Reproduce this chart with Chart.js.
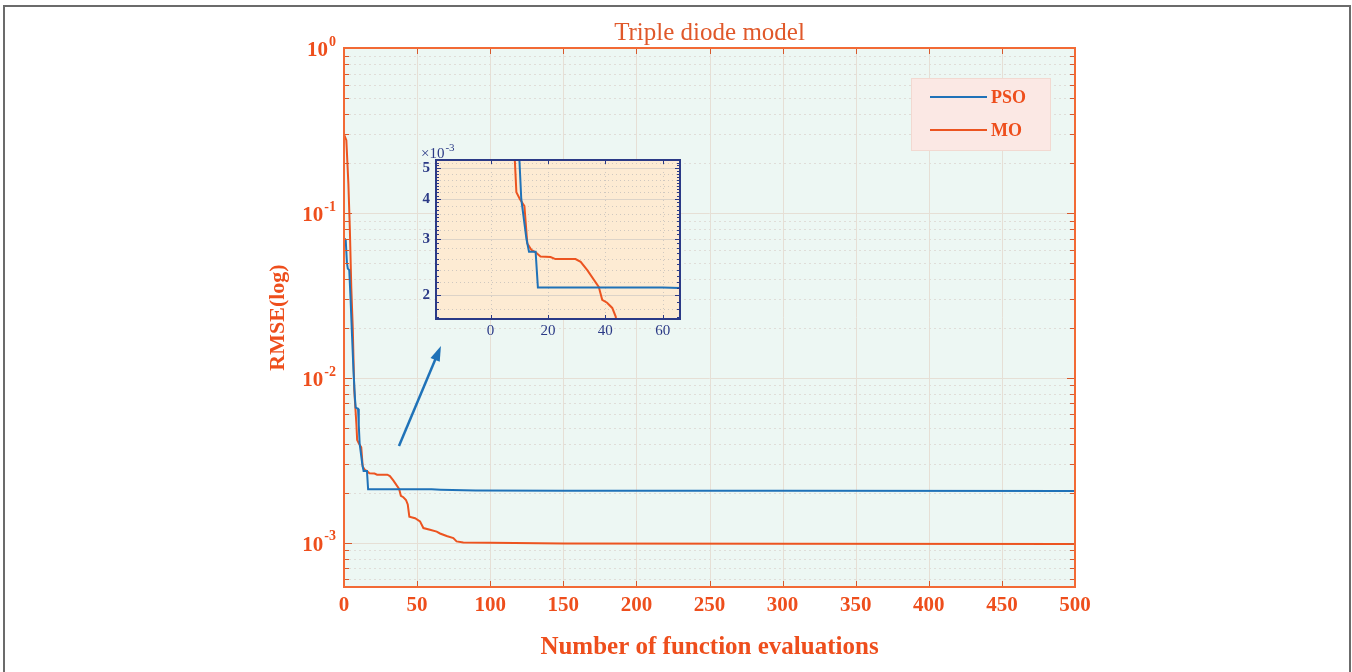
<!DOCTYPE html>
<html>
<head>
<meta charset="utf-8">
<script src="https://cdn.jsdelivr.net/npm/chart.js@4.4.0/dist/chart.umd.min.js"></script>
<style>
  html, body { margin: 0; padding: 0; background: #fff; }
  #wrap { position: relative; width: 1352px; height: 672px; overflow: hidden; }
  #frame { position: absolute; left: 3px; top: 5px; width: 1348px; height: 720px; border: 2px solid #6b6b6b; box-sizing: border-box; }
  #main { position: absolute; left: 0; top: 0; }
  #inset { position: absolute; left: 396px; top: 140px; }
</style>
</head>
<body>
<div id="wrap">
  <div id="frame"></div>
  <canvas id="main" width="1352" height="672"></canvas>
  <canvas id="inset" width="300" height="210"></canvas>
</div>
<script>
// series values
const seriesNames = ['PSO', 'MO'];

const psoIter = [0.5, 1.2, 2, 2.6, 3.6, 4.5, 5.5, 6.5, 7.5, 8, 9.6, 10.1, 10.7, 12.5, 13.4, 15.7, 16.5, 20, 40, 60, 66, 90, 150, 300, 500];
const psoRmse = [0.07, 0.068, 0.05, 0.046, 0.045, 0.03, 0.018, 0.011, 0.0075, 0.0066, 0.0065, 0.0052, 0.0040, 0.0030, 0.00273, 0.00273, 0.00211, 0.00211, 0.00211, 0.00211, 0.0021, 0.00208, 0.00207, 0.00207, 0.00206];

const moIter = [0, 1.6, 3, 4, 5, 6, 7, 8.5, 9, 10.2, 11.8, 12.8, 14.2, 15.7, 17.4, 20.9, 22.6, 29.6, 31.4, 33.7, 37.7, 38.9, 40.6, 42.4, 43.6, 44.7, 48.6, 52, 54.3, 58.8, 63.4, 65.7, 70.2, 74.8, 77, 81.6, 100, 150, 300, 500];
const moRmse = [0.30, 0.276, 0.15, 0.08, 0.035, 0.02, 0.0085, 0.0052, 0.0042, 0.0040, 0.0038, 0.0029, 0.00277, 0.00272, 0.00264, 0.00263, 0.00259, 0.00259, 0.00254, 0.00239, 0.00212, 0.00193, 0.00189, 0.00182, 0.00171, 0.00144, 0.00141, 0.00135, 0.00123, 0.0012, 0.00117, 0.00114, 0.0011, 0.00107, 0.00102, 0.001005, 0.001, 0.00099, 0.000988, 0.000985];

// tick labels
const xTicks = [0, 50, 100, 150, 200, 250, 300, 350, 400, 450, 500];
const yDecades = [1, 0.1, 0.01, 0.001];
const yExponents = ['0', '-1', '-2', '-3'];
const insetXTicks = [0, 20, 40, 60];
const insetYTicks = [0.002, 0.003, 0.004, 0.005];

const SERIF = '"Liberation Serif", "Times New Roman", serif';
const ORANGE = '#ee4e1c';
const FRAME = '#f26a35';
const PSO_COLOR = '#1f72b8';
const MO_COLOR = '#ec5420';
const NAVY = '#2b3a86';

const toPoints = (xs, ys) => xs.map((x, i) => ({ x: x, y: ys[i] }));

function makeDatasets() {
  return [
    { label: seriesNames[0], data: toPoints(psoIter, psoRmse), borderColor: PSO_COLOR, borderWidth: 2, pointRadius: 0, tension: 0 },
    { label: seriesNames[1], data: toPoints(moIter, moRmse), borderColor: MO_COLOR, borderWidth: 2, pointRadius: 0, tension: 0 }
  ];
}

function seg(ctx, x1, y1, x2, y2) {
  ctx.beginPath();
  ctx.moveTo(x1, y1);
  ctx.lineTo(x2, y2);
  ctx.stroke();
}

// main chart decorations: background, grid, box, ticks, labels, legend, arrow
const mainDecor = {
  id: 'mainDecor',
  beforeDraw(chart) {
    const { ctx, chartArea: a } = chart;
    ctx.save();
    ctx.fillStyle = '#edf7f3';
    ctx.fillRect(a.left, a.top, a.right - a.left, a.bottom - a.top);
    ctx.restore();
  },
  beforeDatasetsDraw(chart) {
    const { ctx, chartArea: a, scales: { x, y } } = chart;
    ctx.save();
    ctx.lineWidth = 1;
    ctx.strokeStyle = '#e6dfd5';
    xTicks.forEach(v => {
      if (v <= 0 || v >= 500) return;
      const px = Math.round(x.getPixelForValue(v)) + 0.5;
      seg(ctx, px, a.top, px, a.bottom);
    });
    yDecades.forEach(v => {
      const py = Math.round(y.getPixelForValue(v)) + 0.5;
      if (py <= a.top + 1) return;
      seg(ctx, a.left, py, a.right, py);
    });
    ctx.strokeStyle = '#e0ddd8';
    ctx.setLineDash([2, 3]);
    [1e-4, 1e-3, 1e-2, 1e-1].forEach(d => {
      for (let m = 2; m <= 9; m++) {
        const v = m * d;
        if (v <= y.min || v >= y.max) continue;
        const py = Math.round(y.getPixelForValue(v)) + 0.5;
        seg(ctx, a.left, py, a.right, py);
      }
    });
    ctx.restore();
  },
  afterDatasetsDraw(chart) {
    const { ctx, chartArea: a, scales: { x, y } } = chart;
    ctx.save();

    // ticks on all four sides
    ctx.strokeStyle = '#d8592c';
    ctx.lineWidth = 1;
    xTicks.forEach(v => {
      const px = Math.round(x.getPixelForValue(v)) + 0.5;
      seg(ctx, px, a.bottom, px, a.bottom - 6);
      seg(ctx, px, a.top, px, a.top + 6);
    });
    [1e-4, 1e-3, 1e-2, 1e-1].forEach(d => {
      for (let m = 1; m <= 9; m++) {
        const v = m * d;
        if (v <= y.min || v >= y.max) continue;
        const py = Math.round(y.getPixelForValue(v)) + 0.5;
        const len = m === 1 ? 8 : 5;
        seg(ctx, a.left, py, a.left + len, py);
        seg(ctx, a.right, py, a.right - len, py);
      }
    });

    // box
    ctx.strokeStyle = FRAME;
    ctx.lineWidth = 2;
    ctx.strokeRect(a.left, a.top, a.right - a.left, a.bottom - a.top);

    // y tick labels 10^n
    ctx.fillStyle = ORANGE;
    yDecades.forEach((v, i) => {
      const py = y.getPixelForValue(v);
      const exp = yExponents[i];
      ctx.font = 'bold 14px ' + SERIF;
      const ew = ctx.measureText(exp).width;
      ctx.font = 'bold 21px ' + SERIF;
      const bw = ctx.measureText('10').width;
      const right = a.left - 8;
      ctx.textAlign = 'left';
      ctx.textBaseline = 'middle';
      ctx.fillText('10', right - ew - 1 - bw, py + 3);
      ctx.font = 'bold 14px ' + SERIF;
      ctx.fillText(exp, right - ew, py - 6);
    });

    // title
    ctx.fillStyle = '#e0582a';
    ctx.font = '25px ' + SERIF;
    ctx.textAlign = 'center';
    ctx.textBaseline = 'middle';
    ctx.fillText('Triple diode model', (a.left + a.right) / 2, 33);

    // legend
    const lx = a.right - 164, ly = a.top + 30;
    ctx.fillStyle = '#fbe8e4';
    ctx.fillRect(lx, ly, 139, 72);
    ctx.strokeStyle = '#f2d9d1';
    ctx.lineWidth = 1;
    ctx.strokeRect(lx + 0.5, ly + 0.5, 139, 72);
    chart.data.datasets.forEach((ds, i) => {
      const ry = ly + 19 + i * 33;
      ctx.strokeStyle = ds.borderColor;
      ctx.lineWidth = 2;
      seg(ctx, lx + 19, ry, lx + 76, ry);
      ctx.fillStyle = ORANGE;
      ctx.font = 'bold 18px ' + SERIF;
      ctx.textAlign = 'left';
      ctx.textBaseline = 'middle';
      ctx.fillText(ds.label, lx + 80, ry + 1);
    });

    // arrow pointing at the inset (data coords)
    const x1 = x.getPixelForValue(37.6), y1 = y.getPixelForValue(0.00387);
    const x2 = x.getPixelForValue(66.3), y2 = y.getPixelForValue(0.0156);
    const ang = Math.atan2(y2 - y1, x2 - x1);
    ctx.strokeStyle = PSO_COLOR;
    ctx.fillStyle = PSO_COLOR;
    ctx.lineWidth = 2.5;
    seg(ctx, x1, y1, x2 - 10 * Math.cos(ang), y2 - 10 * Math.sin(ang));
    ctx.beginPath();
    ctx.moveTo(x2, y2);
    ctx.lineTo(x2 - 15 * Math.cos(ang) + 5 * Math.sin(ang), y2 - 15 * Math.sin(ang) - 5 * Math.cos(ang));
    ctx.lineTo(x2 - 15 * Math.cos(ang) - 5 * Math.sin(ang), y2 - 15 * Math.sin(ang) + 5 * Math.cos(ang));
    ctx.closePath();
    ctx.fill();

    ctx.restore();
  }
};

new Chart(document.getElementById('main'), {
  type: 'line',
  data: { datasets: makeDatasets() },
  options: {
    responsive: false,
    animation: false,
    devicePixelRatio: 1,
    layout: { padding: { left: 244, right: 277, top: 48, bottom: 0 } },
    plugins: { legend: { display: false }, tooltip: { enabled: false }, title: { display: false } },
    scales: {
      x: {
        type: 'linear',
        min: 0,
        max: 500,
        afterBuildTicks: s => { s.ticks = xTicks.map(v => ({ value: v })); },
        ticks: { color: ORANGE, font: { family: SERIF, size: 21, weight: 'bold' }, padding: 6, maxRotation: 0, autoSkip: false },
        grid: { display: false, drawTicks: false },
        border: { display: false },
        title: { display: true, text: 'Number of function evaluations', color: ORANGE, font: { family: SERIF, size: 25, weight: 'bold' }, padding: { top: 0, bottom: 9 } },
        afterFit: s => { s.height = 85; }
      },
      y: {
        type: 'logarithmic',
        min: 5.4e-4,
        max: 1,
        ticks: { display: false },
        grid: { display: false, drawTicks: false },
        border: { display: false },
        title: { display: true, text: 'RMSE(log)', color: ORANGE, font: { family: SERIF, size: 22, weight: 'bold' }, padding: { top: 21, bottom: 0 } },
        afterFit: s => { s.width = 100; }
      }
    }
  },
  plugins: [mainDecor]
});

// inset zoom of the first evaluations
const insetDecor = {
  id: 'insetDecor',
  beforeDraw(chart) {
    const { ctx, chartArea: a } = chart;
    ctx.save();
    ctx.fillStyle = '#fdebd3';
    ctx.fillRect(a.left, a.top, a.right - a.left, a.bottom - a.top);
    ctx.restore();
  },
  beforeDatasetsDraw(chart) {
    const { ctx, chartArea: a, scales: { x, y } } = chart;
    ctx.save();
    ctx.lineWidth = 1;
    ctx.strokeStyle = '#dcd3c8';
    insetYTicks.forEach(v => {
      const py = Math.round(y.getPixelForValue(v)) + 0.5;
      seg(ctx, a.left, py, a.right, py);
    });
    ctx.setLineDash([1, 3]);
    ctx.strokeStyle = '#cfc8c0';
    insetXTicks.forEach(v => {
      const px = Math.round(x.getPixelForValue(v)) + 0.5;
      seg(ctx, px, a.top, px, a.bottom);
    });
    for (let k = 18; k <= 52; k += 2) {
      const v = k / 10000;
      if (k % 10 === 0 || v <= y.min || v >= y.max) continue;
      const py = Math.round(y.getPixelForValue(v)) + 0.5;
      seg(ctx, a.left, py, a.right, py);
    }
    ctx.restore();
  },
  afterDatasetsDraw(chart) {
    const { ctx, chartArea: a, scales: { x, y } } = chart;
    ctx.save();
    ctx.strokeStyle = NAVY;
    ctx.lineWidth = 1;
    for (let k = 17; k <= 53; k++) {
      const v = k / 10000;
      if (v <= y.min || v >= y.max) continue;
      const py = Math.round(y.getPixelForValue(v)) + 0.5;
      const len = k % 10 === 0 ? 5 : 3;
      seg(ctx, a.left, py, a.left + len, py);
      seg(ctx, a.right, py, a.right - len, py);
    }
    insetXTicks.forEach(v => {
      const px = Math.round(x.getPixelForValue(v)) + 0.5;
      seg(ctx, px, a.bottom, px, a.bottom - 4);
      seg(ctx, px, a.top, px, a.top + 4);
    });
    ctx.lineWidth = 2;
    ctx.strokeRect(a.left, a.top, a.right - a.left, a.bottom - a.top);

    // exponent note
    ctx.fillStyle = NAVY;
    ctx.textAlign = 'left';
    ctx.textBaseline = 'alphabetic';
    ctx.font = '15px ' + SERIF;
    ctx.fillText('\u00d710', a.left - 15, a.top - 2);
    const w = ctx.measureText('\u00d710').width;
    ctx.font = '11px ' + SERIF;
    ctx.fillText('-3', a.left - 15 + w + 1, a.top - 9);
    ctx.restore();
  }
};

new Chart(document.getElementById('inset'), {
  type: 'line',
  data: { datasets: makeDatasets() },
  options: {
    responsive: false,
    animation: false,
    devicePixelRatio: 1,
    layout: { padding: { left: 0, right: 16, top: 20, bottom: 0 } },
    plugins: { legend: { display: false }, tooltip: { enabled: false }, title: { display: false } },
    scales: {
      x: {
        type: 'linear',
        min: -19,
        max: 66,
        afterBuildTicks: s => { s.ticks = insetXTicks.map(v => ({ value: v })); },
        ticks: { color: NAVY, font: { family: SERIF, size: 15 }, padding: 3, maxRotation: 0, autoSkip: false },
        grid: { display: false, drawTicks: false },
        border: { display: false },
        afterFit: s => { s.height = 31; }
      },
      y: {
        type: 'logarithmic',
        min: 0.00168,
        max: 0.0053,
        afterBuildTicks: s => { s.ticks = insetYTicks.map(v => ({ value: v })); },
        ticks: { color: NAVY, font: { family: SERIF, size: 15, weight: 'bold' }, padding: 6, callback: v => String(Math.round(v * 1000)) },
        grid: { display: false, drawTicks: false },
        border: { display: false },
        afterFit: s => { s.width = 40; }
      }
    }
  },
  plugins: [insetDecor]
});
</script>
</body>
</html>
